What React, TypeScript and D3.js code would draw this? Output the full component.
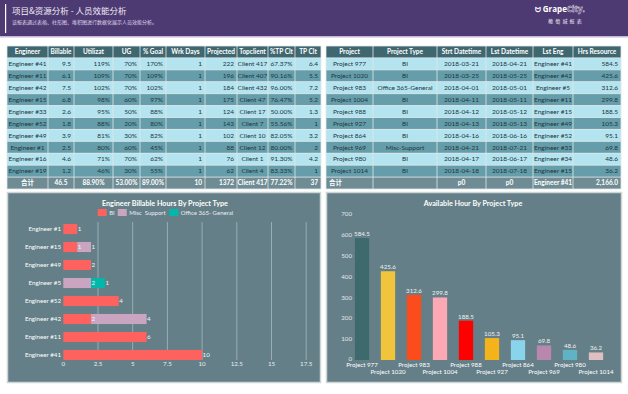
import React from 'react';
import * as d3 from 'd3';

// ---- engineer table ----
const engColumns = ['Engineer', 'Billable', 'Utilizat', 'UG', '% Goal', 'Wrk Days', 'Projected', 'Topclient', '%TP Clt', 'TP  Clt'];
const engNames = ['Engineer #41', 'Engineer #11', 'Engineer #42', 'Engineer #15', 'Engineer #33', 'Engineer #52', 'Engineer #49', 'Engineer #1', 'Engineer #16', 'Engineer #19'];
const billable = [9.5, 6.1, 7.5, 6.8, 2.6, 1.8, 3.9, 2.5, 4.6, 1.2];
const utilization = [119, 109, 102, 98, 95, 88, 81, 80, 71, 46];
const ugPct = [70, 70, 70, 60, 50, 20, 30, 60, 70, 30];
const goalPct = [170, 109, 102, 97, 88, 80, 82, 45, 62, 55];
const workDays = [1, 1, 1, 1, 1, 1, 1, 1, 1, 1];
const projected = [222, 196, 184, 175, 124, 143, 102, 88, 76, 62];
const topClients = ['Client 417', 'Client 407', 'Client 432', 'Client 47', 'Client 17', 'Client 7', 'Client 10', 'Client 12', 'Client 1', 'Client 4'];
const tpClientPct = [67.37, 90.16, 96.0, 76.47, 50.0, 55.56, 82.05, 80.0, 91.3, 83.33];
const tpClient = [6.4, 5.5, 7.2, 5.2, 1.3, 1, 3.2, 2, 4.2, 1];
const engTotals = ['合计', '46.5', '88.90%', '53.00%', '89.00%', '10', '1372', 'Client 417', '77.22%', '37'];

// ---- project table ----
const projColumns = ['Project', 'Project Type', 'Strt Datetime', 'Lst Datetime', 'Lst Eng', 'Hrs Resource'];
const projects = ['Project 977', 'Project 1020', 'Project 983', 'Project 1004', 'Project 988', 'Project 927', 'Project 864', 'Project 969', 'Project 980', 'Project 1014'];
const projectTypes = ['BI', 'BI', 'Office 365-General', 'BI', 'BI', 'BI', 'BI', 'Misc-Support', 'BI', 'BI'];
const startDates = ['2018-03-21', '2018-03-25', '2018-04-01', '2018-04-11', '2018-04-12', '2018-04-13', '2018-04-16', '2018-04-21', '2018-04-17', '2018-04-18'];
const lastDates = ['2018-04-21', '2018-05-25', '2018-05-01', '2018-05-11', '2018-05-12', '2018-05-13', '2018-06-16', '2018-07-21', '2018-06-17', '2018-07-18'];
const lastEngineers = ['Engineer #41', 'Engineer #42', 'Engineer #5', 'Engineer #11', 'Engineer #15', 'Engineer #49', 'Engineer #52', 'Engineer #33', 'Engineer #34', 'Engineer #15'];
const hrsResource = [584.5, 425.6, 312.6, 299.8, 188.5, 105.3, 95.1, 69.8, 48.6, 36.2];
const projTotals = ['合计', '', 'p0', 'p0', 'Engineer #41', '2,166.0'];

// ---- billable chart ----
const billEngineers = ['Engineer #1', 'Engineer #15', 'Engineer #49', 'Engineer #5', 'Engineer #52', 'Engineer #42', 'Engineer #11', 'Engineer #41'];
const projectTypeKeys = ['BI', 'Misc\u00a0 Support', 'Office 365- General'];
const biHours = [1, 1, 2, 0, 4, 2, 6, 10];
const miscHours = [0, 1, 0, 2, 0, 4, 0, 0];
const officeHours = [0, 0, 0, 1, 0, 0, 0, 0];
const hourTicks = [0, 2.5, 5, 7.5, 10, 12.5, 15, 17.5];

// ---- available chart ----
const availTicks = [0, 100, 200, 300, 400, 500, 600, 700];

const FONT = "Lato, 'Noto Sans CJK SC', sans-serif";
const typeColors = ['#fd625e', '#c9a5c2', '#01b8aa'];
const projColors = ['#3e6a6d', '#f0c53b', '#fd4c1c', '#fda9b4', '#fe0000', '#f4b31b', '#8ad4eb', '#b887ad', '#5fb3c4', '#dfbfbf'];

const TABLE_TOP = 46;
const TABLE_BOTTOM = 189;

type Align = 'left' | 'center' | 'right';

function DataTable({ edges, header, rows, aligns, total, totalAligns }: {
  edges: number[]; header: string[]; rows: string[][]; aligns: Align[]; total: string[]; totalAligns: Align[];
}) {
  const y = d3.scaleBand<number>().domain(d3.range(rows.length + 2)).range([TABLE_TOP, TABLE_BOTTOM]);
  const h = y.bandwidth();
  const tx = (c: number, a: Align) =>
    a === 'left' ? edges[c] + 3 : a === 'right' ? edges[c + 1] - 3 : (edges[c] + edges[c + 1]) / 2;
  const anchor = (a: Align) => (a === 'left' ? 'start' : a === 'right' ? 'end' : 'middle');
  const x0 = edges[0];
  const x1 = edges[edges.length - 1];
  const all = [header, ...rows, total];
  return (
    <g fontSize={6.5}>
      {all.map((row, r) => {
        const isHead = r === 0;
        const isTotal = r === all.length - 1;
        const fill = isHead ? '#3f6770' : isTotal ? '#6f8c94' : r % 2 === 1 ? '#b4e4ef' : '#659eaa';
        const al = isHead ? header.map(() => 'center' as Align) : isTotal ? totalAligns : aligns;
        return (
          <g key={r}>
            <rect x={x0} y={y(r)!} width={x1 - x0} height={h} fill={fill} />
            {row.map((cell, c) => (
              <text key={c} x={tx(c, al[c])} y={y(r)! + h / 2} dy="0.35em" textAnchor={anchor(al[c])}
                fill={isHead || isTotal ? '#ffffff' : '#22363d'} fontWeight={isHead || isTotal ? 700 : 400}>
                {cell}
              </text>
            ))}
          </g>
        );
      })}
      {d3.range(all.length + 1).map((r) => {
        const yy = r === all.length ? TABLE_BOTTOM : y(r)!;
        return <line key={'h' + r} x1={x0} x2={x1} y1={yy} y2={yy} stroke="#dfe7ea" strokeWidth={0.8} />;
      })}
      {edges.map((e, i) => (
        <line key={'v' + i} x1={e} x2={e} y1={TABLE_TOP} y2={TABLE_BOTTOM} stroke="#dfe7ea" strokeWidth={0.8} />
      ))}
    </g>
  );
}

function Header() {
  return (
    <g>
      <rect x={0} y={0} width={628} height={36} fill="#4e3a73" />
      <rect x={0} y={36} width={628} height={1.5} fill="#c4bad8" />
      <rect x={5} y={4} width={1.2} height={29} fill="#ffffff" />
      <text x={12} y={14} fontSize={8.5} fill="#f1eef6" fontFamily="'Noto Sans CJK SC', sans-serif">项目&amp;资源分析 - 人员效能分析</text>
      <text x={12} y={23.5} fontSize={5} fill="#ddd6ea" fontFamily="'Noto Sans CJK SC', sans-serif">该报表通过表格、柱形图、堆积图进行数据化展示人员效能分析。</text>
      <text x={535} y={12} fontSize={8} fill="#ffffff" fontWeight={700} fontFamily="'Open Sans', sans-serif">
        <tspan fontSize={7}>ᗢ </tspan>Grape<tspan fill="none" stroke="#ffffff" strokeWidth={0.35}>City.</tspan>
      </text>
      <text x={548} y={23} fontSize={5} fill="#ece8f3" letterSpacing={2.2} fontFamily="'Noto Sans CJK SC', sans-serif">葡萄城报表</text>
    </g>
  );
}

function BillableChart() {
  const x = d3.scaleLinear().domain([0, 20]).range([63.3, 340.9]);
  const y = d3.scaleBand().domain(billEngineers).range([220, 364]).paddingInner(0.44).paddingOuter(0.22);
  const rows = billEngineers.map((name, i) => ({ name, a: biHours[i], b: miscHours[i], c: officeHours[i] }));
  const series = d3.stack<any>().keys(['a', 'b', 'c'])(rows);
  return (
    <g>
      <rect x={7.5} y={192.5} width={313} height={190} fill="#647f87" stroke="#cdd5d8" strokeWidth={1.5} />
      <text x={165} y={205.5} textAnchor="middle" fontSize={7.2} fontWeight={700} fill="#ffffff">Engineer Billable Hours By Project Type</text>
      {[97.7, 117.7, 169.3].map((lx, i) => (
        <g key={i}>
          <rect x={lx} y={209} width={9} height={7} fill={typeColors[i]} />
          <text x={lx + 11.5} y={214.8} fontSize={6} fill="#e9eef0">{projectTypeKeys[i]}</text>
        </g>
      ))}
      {hourTicks.filter((t) => t > 0).map((t) => (
        <line key={t} x1={x(t)} x2={x(t)} y1={222} y2={360} stroke="#a7b9be" strokeWidth={0.8} />
      ))}
      {series.map((s, k) => (
        <g key={k} fill={typeColors[k]}>
          {s.map((d, i) => (d[1] - d[0] > 0 ? (
            <rect key={i} x={x(d[0])} y={y(billEngineers[i])!} width={x(d[1]) - x(d[0])} height={y.bandwidth()} />
          ) : null))}
        </g>
      ))}
      {series.map((s, k) => (
        <g key={'l' + k} fontSize={6.2} fill="#f2f5f6">
          {s.map((d, i) => (d[1] - d[0] > 0 ? (
            <text key={i} x={x(d[1]) + 0.5} y={y(billEngineers[i])! + y.bandwidth() / 2} dy="0.35em">{d[1] - d[0]}</text>
          ) : null))}
        </g>
      ))}
      {billEngineers.map((n) => (
        <text key={n} x={61} y={y(n)! + y.bandwidth() / 2} dy="0.35em" textAnchor="end" fontSize={6.2} fill="#ffffff">{n}</text>
      ))}
      {hourTicks.map((t) => (
        <text key={t} x={x(t)} y={366} textAnchor="middle" fontSize={6.2} fill="#e9eef0">{t}</text>
      ))}
    </g>
  );
}

function AvailableChart() {
  const x = d3.scaleBand().domain(projects).range([349, 609]).paddingInner(0.45).paddingOuter(0.225);
  const y = d3.scaleLinear().domain([0, 700]).range([360, 214]);
  const color = d3.scaleOrdinal<string, string>().domain(projects).range(projColors);
  return (
    <g>
      <rect x={326.5} y={192.5} width={295} height={190} fill="#647f87" stroke="#cdd5d8" strokeWidth={1.5} />
      <text x={473} y={206} textAnchor="middle" fontSize={7.2} fontWeight={700} fill="#ffffff">Available Hour By Project Type</text>
      {availTicks.map((t) => (
        <text key={t} x={352} y={y(t) - (t === 0 ? 1.5 : 0)} dy="0.35em" textAnchor="end" fontSize={6.2} fill="#e3e9eb">{t}</text>
      ))}
      {projects.map((p, i) => (
        <g key={p}>
          <rect x={x(p)!} y={y(hrsResource[i])} width={x.bandwidth()} height={y(0) - y(hrsResource[i])} fill={color(p)} />
          <text x={x(p)! + x.bandwidth() / 2} y={y(hrsResource[i]) - 2} textAnchor="middle" fontSize={6.2} fill="#eef2f3">{hrsResource[i]}</text>
          <text x={x(p)! + x.bandwidth() / 2} y={i % 2 === 0 ? 366.5 : 374} textAnchor="middle" fontSize={6.2} fill="#ffffff">{p}</text>
        </g>
      ))}
    </g>
  );
}

export default function App() {
  const engRows = engNames.map((n, i) => [
    n, billable[i].toFixed(1), utilization[i] + '%', ugPct[i] + '%', goalPct[i] + '%', String(workDays[i]),
    String(projected[i]), topClients[i], tpClientPct[i].toFixed(2) + '%', String(tpClient[i]),
  ]);
  const projRows = projects.map((p, i) => [
    p, projectTypes[i], startDates[i], lastDates[i], lastEngineers[i], hrsResource[i].toFixed(1),
  ]);
  return (
    <div style={{ position: 'absolute', left: 0, top: 0 }}>
      <svg width={628} height={394} style={{ display: 'block', background: '#ffffff', fontFamily: FONT }}>
        <Header />
        <DataTable
          edges={[7, 48, 74, 113, 140, 166, 205, 237, 268, 295, 321]}
          header={engColumns}
          rows={engRows}
          aligns={['center', 'right', 'right', 'right', 'right', 'right', 'right', 'center', 'center', 'right']}
          total={engTotals}
          totalAligns={['center', 'center', 'center', 'center', 'center', 'right', 'right', 'center', 'center', 'right']}
        />
        <DataTable
          edges={[326, 373, 437, 486, 533, 573, 621]}
          header={projColumns}
          rows={projRows}
          aligns={['center', 'center', 'center', 'center', 'center', 'right']}
          total={projTotals}
          totalAligns={['left', 'center', 'center', 'center', 'center', 'right']}
        />
        <BillableChart />
        <AvailableChart />
      </svg>
    </div>
  );
}
